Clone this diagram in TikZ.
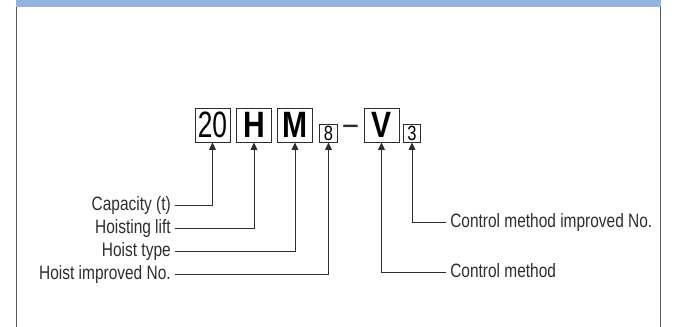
\documentclass[tikz,border=0pt]{standalone}
\usepackage{fontspec}
\usepackage{xcolor}
\usetikzlibrary{arrows.meta,positioning}
\newfontfamily\labfont[FakeStretch=0.8]{Liberation Sans}
\newfontfamily\digfont[FakeStretch=0.72]{Liberation Sans}
\newfontfamily\letfont[FakeStretch=0.82]{Liberation Sans}
\definecolor{barblue}{RGB}{148,180,223}
\definecolor{framegray}{RGB}{90,90,90}
\definecolor{linegray}{RGB}{45,45,45}

\begin{document}
\begin{tikzpicture}[x=0.75pt,y=0.75pt,yscale=-1,xscale=1,
  codebox/.style={draw=linegray,line width=0.7pt,inner sep=0pt,minimum width=26.25pt,minimum height=25.5pt},
  subbox/.style={draw=linegray,line width=0.7pt,inner sep=0pt,minimum width=13pt,minimum height=13.5pt,font=\labfont\fontsize{15.5}{15.5}\selectfont},
  lab/.style={inner xsep=3pt,inner ysep=0pt,text height=0.74em,text depth=0pt,font=\labfont\fontsize{14.5}{14.5}\selectfont,text=linegray},
  conn/.style={draw=linegray,line width=0.75pt,-{Triangle[length=5.5pt,width=5pt]}}]
\useasboundingbox (0,0) rectangle (675,327);

%Shape: Rectangle [header bar]
\fill [barblue] (16,0) rectangle (661,7.5);
%Straight Lines [frame sides]
\draw [framegray,line width=1.1pt] (16.5,7.5) -- (16.5,327);
\draw [framegray,line width=1.1pt] (660.5,7.5) -- (660.5,327);

% Code boxes
\node [codebox,font=\digfont\fontsize{27.5}{27.5}\selectfont] (cap) at (212.5,125) {20};
\node [codebox,font=\letfont\bfseries\fontsize{27.5}{27.5}\selectfont] (lift) at (254,125) {H};
\node [codebox,font=\letfont\bfseries\fontsize{27.5}{27.5}\selectfont] (type) at (295,125) {M};
\node [subbox] (himp) at (328.5,133) {8};
\node [anchor=base,inner sep=0pt,font=\digfont\fontsize{27}{27}\selectfont,text=linegray] (dash) at (350.5,136) {–};
\node [codebox,font=\letfont\bfseries\fontsize{27.5}{27.5}\selectfont] (ctrl) at (381.5,125) {V};
\node [subbox] (cimp) at (412,133) {3};

% Text Node
\node [lab,anchor=east] (lcap) at (175,205.5) {Capacity (t)};
% Text Node
\node [lab,anchor=east] (llift) at (175,228.5) {Hoisting lift};
% Text Node
\node [lab,anchor=east] (ltype) at (175,251.5) {Hoist type};
% Text Node
\node [lab,anchor=east] (lhimp) at (175,274.5) {Hoist improved No.};
% Text Node
\node [lab,anchor=west] (lcimp) at (446,223) {Control method improved No.};
% Text Node
\node [lab,anchor=west] (lctrl) at (446,273) {Control method};

%Straight Lines [connectors]
\draw [conn] (lcap.east) -| (cap.south);
\draw [conn] (llift.east) -| (lift.south);
\draw [conn] (ltype.east) -| (type.south);
\draw [conn] (lhimp.east) -| (himp.south);
\draw [conn] (lcimp.west) -| (cimp.south);
\draw [conn] (lctrl.west) -| (ctrl.south);

\end{tikzpicture}
\end{document}
